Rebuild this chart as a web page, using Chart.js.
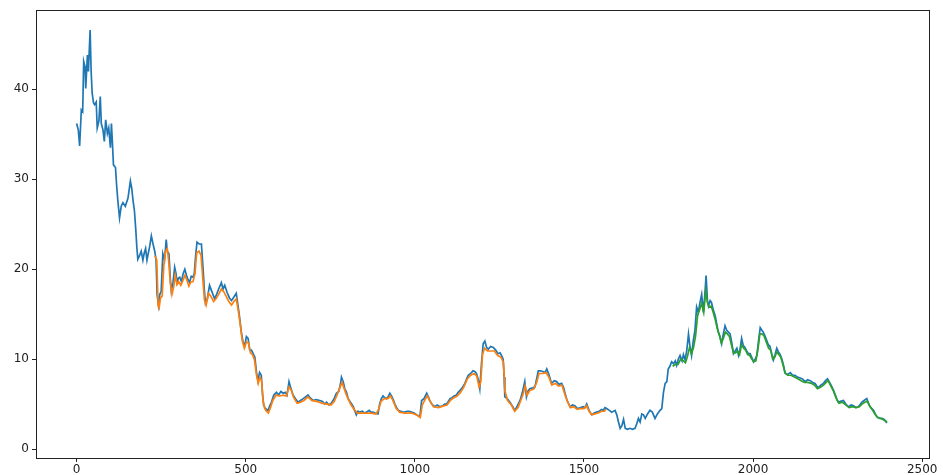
<!DOCTYPE html>
<html>
<head>
<meta charset="utf-8">
<script src="https://cdn.jsdelivr.net/npm/chart.js@4/dist/chart.umd.min.js"></script>
<style>
  html, body { margin: 0; padding: 0; background: #fff; }
  #wrap { width: 943px; height: 475px; }
</style>
</head>
<body>
<div id="wrap"><canvas id="c" width="943" height="475"></canvas></div>
<script>
// Closing price series (day index -> price)
const actualX = [0,5,9,14,18,21,25,27,32,35,40,43,46,50,53,58,61,66,70,73,78,82,86,91,95,100,103,106,109,115,118,122,127,132,137,144,152,159,163,167,171,175,178,181,186,191,196,200,204,208,211,216,221,226,231,235,238,242,246,250,255,260,265,268,273,277,280,285,290,294,297,301,305,310,315,320,325,329,334,339,344,348,352,356,362,369,374,378,381,386,393,400,408,414,420,428,433,438,445,452,458,465,472,477,482,487,492,497,502,507,512,517,522,527,532,536,541,546,550,553,558,562,566,571,576,583,591,597,604,611,617,622,628,633,640,647,655,662,670,677,684,690,699,708,719,727,733,739,746,753,760,768,775,780,783,788,793,798,803,808,813,818,822,827,832,837,845,851,857,865,870,876,883,891,896,901,906,911,916,921,926,931,936,941,946,951,958,965,970,977,983,990,998,1005,1010,1015,1020,1027,1035,1040,1044,1050,1059,1066,1074,1082,1088,1094,1099,1104,1110,1116,1123,1128,1133,1140,1148,1153,1158,1165,1172,1178,1182,1187,1192,1197,1202,1207,1212,1217,1224,1232,1239,1246,1252,1256,1261,1264,1266,1273,1281,1288,1296,1303,1311,1318,1325,1330,1335,1340,1348,1355,1360,1365,1372,1380,1385,1390,1396,1404,1412,1419,1426,1434,1440,1444,1450,1459,1466,1473,1478,1483,1490,1498,1503,1508,1515,1523,1530,1537,1545,1552,1557,1562,1567,1575,1582,1592,1597,1602,1607,1612,1617,1622,1629,1636,1643,1651,1656,1661,1666,1671,1676,1681,1688,1695,1702,1710,1717,1725,1730,1735,1740,1745,1749,1754,1759,1765,1770,1774,1779,1784,1790,1794,1799,1804,1809,1813,1818,1823,1828,1833,1838,1843,1848,1853,1857,1861,1865,1868,1873,1877,1882,1888,1893,1897,1902,1907,1912,1917,1922,1927,1932,1937,1942,1947,1952,1957,1961,1966,1971,1976,1981,1986,1991,1996,2001,2006,2011,2016,2021,2026,2030,2035,2040,2045,2050,2055,2060,2065,2070,2075,2080,2085,2090,2095,2102,2110,2117,2124,2131,2139,2146,2154,2161,2169,2176,2183,2188,2193,2200,2208,2214,2220,2226,2232,2238,2243,2248,2252,2258,2267,2274,2282,2290,2297,2304,2311,2316,2321,2328,2336,2341,2346,2351,2356,2361,2366,2374,2381,2388,2393,2396];
const actualY = [36.2,35.5,33.7,37.7,37.5,43.1,42.5,40.1,43.8,42.0,46.6,42.0,39.6,38.5,38.3,38.6,35.7,36.5,39.2,36.2,35.5,34.2,36.6,35.1,35.7,33.5,36.2,34.0,31.6,31.3,29.5,27.6,25.7,27.0,27.4,27.0,27.9,29.8,29.0,27.6,26.5,24.4,22.5,21.1,21.5,22.0,21.0,21.8,22.3,21.0,21.6,22.5,23.7,22.8,22.0,21.0,17.2,16.0,17.2,17.5,21.7,21.0,23.3,22.0,21.7,19.0,17.6,18.5,20.2,19.5,18.5,19.0,19.1,18.6,19.5,20.0,19.3,18.9,18.5,19.2,19.1,19.5,21.5,23.0,22.8,22.8,20.0,17.5,16.2,16.6,18.2,17.5,16.7,17.2,17.8,18.5,17.8,18.2,17.4,16.8,16.5,16.9,17.3,16.0,14.6,13.0,11.9,11.5,12.5,12.3,11.0,11.0,10.6,10.2,8.5,7.6,8.5,8.2,6.0,4.9,4.5,4.4,4.3,4.8,5.2,6.0,6.3,6.0,6.4,6.2,6.3,6.0,7.5,6.8,6.0,5.6,5.2,5.4,5.6,5.8,6.0,5.7,5.4,5.5,5.4,5.3,5.0,5.2,4.9,5.1,5.5,6.2,6.4,7.2,8.0,7.5,6.7,6.3,5.6,5.3,5.0,4.7,4.3,3.8,4.2,4.1,4.2,4.0,4.1,4.3,4.1,4.1,4.0,3.9,5.0,5.6,5.9,5.7,5.6,5.8,6.2,5.9,5.5,5.0,4.6,4.3,4.2,4.1,4.1,4.2,4.2,4.1,4.0,3.8,3.7,3.6,5.4,5.6,6.2,5.8,5.4,5.0,4.7,4.9,4.7,4.8,5.0,5.0,5.3,5.6,5.7,5.9,6.0,6.3,6.5,6.8,7.3,7.8,8.2,8.4,8.7,8.6,8.4,7.8,6.7,9.5,11.7,12.0,11.3,11.1,11.4,11.3,11.0,10.6,10.7,10.4,10.0,8.0,5.8,5.6,5.2,4.8,4.3,4.8,5.4,6.3,7.5,5.8,6.5,6.7,6.8,6.9,7.8,8.7,8.7,8.6,8.5,8.9,8.3,7.3,7.6,7.5,7.2,7.3,6.8,6.2,5.4,4.7,4.9,4.8,4.6,4.5,4.6,4.7,4.6,5.0,4.3,3.8,4.0,4.1,4.2,4.4,4.3,4.6,4.5,4.3,4.1,4.3,3.8,3.0,2.3,2.6,3.3,2.3,2.2,2.3,2.2,2.3,2.8,3.4,3.0,3.9,3.8,3.4,3.9,4.3,4.1,3.4,3.9,4.3,4.5,6.3,7.3,7.5,8.9,9.2,9.7,9.5,9.8,9.3,10.0,10.4,9.8,10.5,9.9,11.0,12.8,11.5,10.4,12.0,13.2,15.8,15.2,16.3,17.2,15.2,17.0,19.3,16.5,15.9,16.5,16.3,15.5,14.8,13.8,13.0,12.5,11.7,12.8,13.7,13.2,13.0,12.8,11.8,10.6,10.9,11.2,10.4,11.0,12.3,11.5,11.3,10.9,10.6,10.6,10.2,9.7,10.0,10.4,12.0,13.5,13.2,13.0,12.6,12.1,11.6,11.4,10.6,9.9,10.5,11.2,10.8,10.5,10.0,9.3,8.4,8.3,8.5,8.2,8.2,8.0,7.9,7.8,7.5,7.7,7.6,7.4,7.3,7.0,6.8,7.1,7.3,7.6,7.8,7.4,7.0,6.5,6.0,5.5,5.2,5.3,5.4,5.0,4.7,4.9,4.8,4.6,4.7,4.9,5.2,5.4,5.6,5.1,4.7,4.5,4.3,3.9,3.6,3.4,3.4,3.3,3.0,2.9];

// Fitted values on the training window
const trainX = [232,237,241,244,248,253,258,263,268,272,277,282,287,292,297,302,308,315,320,326,332,338,344,350,355,362,368,373,378,383,390,397,405,412,420,428,435,442,450,458,465,472,478,484,490,496,502,508,514,520,526,532,537,542,547,551,556,561,567,573,580,590,600,610,620,628,635,642,652,662,672,684,695,710,725,740,752,762,770,778,785,792,800,810,820,830,840,855,870,885,893,900,910,920,928,935,945,955,970,990,1005,1016,1022,1030,1037,1045,1055,1070,1085,1095,1105,1115,1125,1135,1145,1155,1165,1175,1183,1190,1195,1200,1206,1215,1225,1235,1245,1255,1262,1266,1274,1285,1295,1305,1313,1320,1326,1332,1340,1352,1360,1367,1377,1388,1396,1405,1415,1425,1435,1444,1452,1460,1470,1480,1490,1500,1508,1515,1523,1532,1542,1552,1560,1565];
const trainY = [21.5,21.0,16.0,15.7,16.8,17.0,20.5,22.0,22.3,21.0,18.5,17.2,18.0,19.3,18.3,18.6,18.2,18.8,19.3,18.8,18.1,18.6,18.6,19.5,21.8,22.0,21.5,19.0,16.6,16.0,17.3,17.0,16.4,16.7,17.2,17.8,17.5,17.0,16.4,16.0,16.4,16.7,15.4,13.8,12.0,11.2,11.9,11.8,10.7,10.5,9.9,8.2,7.3,8.0,7.6,5.4,4.5,4.2,4.0,4.6,5.4,6.0,5.9,6.0,5.9,6.9,6.5,5.7,5.1,5.2,5.4,5.8,5.4,5.3,5.1,5.0,4.9,5.3,6.0,6.8,7.4,6.6,5.8,5.0,4.4,4.0,4.0,4.0,4.0,3.9,4.4,5.3,5.6,5.6,5.9,5.4,4.5,4.1,4.0,4.0,3.8,3.5,4.9,5.5,5.9,5.3,4.7,4.6,4.8,4.9,5.4,5.7,5.9,6.3,6.9,7.8,8.2,8.4,8.1,6.9,7.5,10.5,11.2,10.9,10.9,10.9,10.4,10.2,9.6,6.5,5.4,4.9,4.2,4.6,5.4,6.1,7.0,6.0,6.5,6.7,7.4,8.4,8.4,8.5,8.0,7.1,7.3,7.0,7.1,6.0,5.2,4.6,4.7,4.4,4.5,4.5,4.8,4.2,3.8,3.9,4.0,4.2,4.2,4.4];

// Fitted values on the test window
const testX = [1762,1770,1778,1786,1794,1800,1806,1812,1818,1824,1830,1836,1842,1848,1854,1860,1865,1870,1876,1882,1888,1894,1900,1906,1912,1918,1924,1930,1936,1942,1948,1954,1960,1966,1972,1978,1984,1990,1996,2002,2008,2014,2020,2026,2032,2040,2046,2052,2058,2064,2070,2076,2082,2088,2094,2102,2112,2122,2132,2142,2152,2162,2172,2182,2190,2200,2208,2216,2222,2230,2238,2246,2254,2264,2274,2284,2294,2304,2314,2322,2330,2338,2344,2352,2360,2368,2378,2388,2396];
const testY = [9.2,9.4,9.4,10.0,9.8,9.6,10.3,11.3,10.6,11.3,12.6,14.9,15.5,16.2,15.2,17.6,16.3,15.8,15.9,15.2,14.4,13.4,12.7,11.8,12.3,13.0,12.8,12.5,11.6,10.7,10.7,10.9,10.5,11.6,11.2,11.0,10.5,10.4,10.0,9.7,9.8,11.0,12.8,12.8,12.6,11.8,11.2,11.0,10.0,10.2,10.8,10.5,10.2,9.4,8.5,8.2,8.2,8.0,7.8,7.6,7.4,7.4,7.3,7.1,6.7,6.9,7.1,7.4,7.6,7.0,6.4,5.6,5.1,5.2,4.9,4.6,4.7,4.6,4.7,5.0,5.2,5.3,4.8,4.4,3.9,3.5,3.4,3.2,3.0];

const xTicks = [0, 500, 1000, 1500, 2000, 2500];
const yTicks = [0, 10, 20, 30, 40];

const toPoints = (xs, ys) => xs.map((x, i) => ({ x: x, y: ys[i] }));

// Frame around the plotting area
const framePlugin = {
  id: 'frame',
  afterDraw(chart) {
    const a = chart.chartArea;
    const ctx = chart.ctx;
    ctx.save();
    ctx.strokeStyle = '#222';
    ctx.lineWidth = 1;
    ctx.strokeRect(Math.round(a.left) + 0.5, Math.round(a.top) + 0.5,
                   Math.round(a.right - a.left), Math.round(a.bottom - a.top));
    ctx.restore();
  }
};

const lineStyle = (color, order) => ({
  borderColor: color,
  backgroundColor: color,
  borderWidth: 1.7,
  pointRadius: 0,
  tension: 0,
  fill: false,
  order: order
});

new Chart(document.getElementById('c'), {
  type: 'line',
  data: {
    datasets: [
      Object.assign({ label: 'actual', data: toPoints(actualX, actualY) }, lineStyle('#1f77b4', 3)),
      Object.assign({ label: 'train', data: toPoints(trainX, trainY) }, lineStyle('#ff7f0e', 2)),
      Object.assign({ label: 'test', data: toPoints(testX, testY) }, lineStyle('#2ca02c', 1))
    ]
  },
  options: {
    responsive: false,
    animation: false,
    devicePixelRatio: 1,
    layout: { padding: { top: 6, right: 14, left: 0, bottom: 0 } },
    plugins: { legend: { display: false }, tooltip: { enabled: false } },
    scales: {
      x: {
        type: 'linear',
        min: -120,
        max: 2520,
        afterBuildTicks(scale) { scale.ticks = xTicks.map(v => ({ value: v })); },
        afterFit(scale) { scale.height = 17; },
        grid: { drawOnChartArea: false, drawTicks: true, tickLength: 4, color: '#222' },
        border: { display: false },
        ticks: { color: '#222', padding: 1, maxRotation: 0,
                 font: { family: 'DejaVu Sans', size: 12 },
                 callback: v => String(v) }
      },
      y: {
        type: 'linear',
        min: -1,
        max: 48.8,
        afterBuildTicks(scale) { scale.ticks = yTicks.map(v => ({ value: v })); },
        afterFit(scale) { scale.width = 36; },
        grid: { drawOnChartArea: false, drawTicks: true, tickLength: 4, color: '#222' },
        border: { display: false },
        ticks: { color: '#222', padding: 3,
                 font: { family: 'DejaVu Sans', size: 12 },
                 callback: v => String(v) }
      }
    }
  },
  plugins: [framePlugin]
});
</script>
</body>
</html>
